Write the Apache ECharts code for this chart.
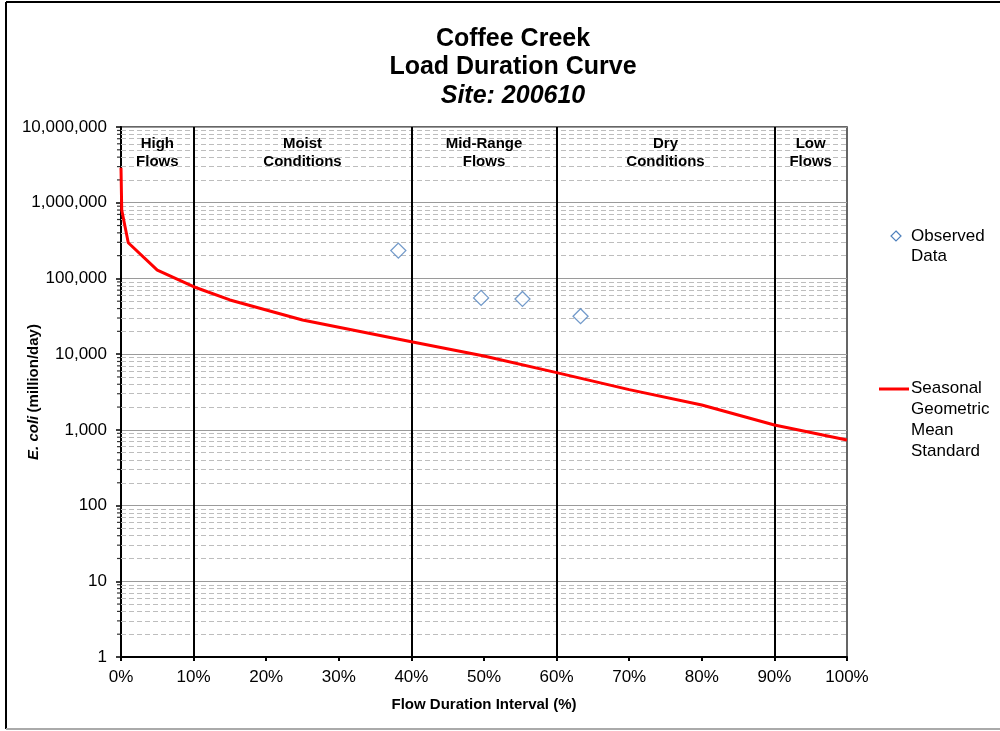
<!DOCTYPE html>
<html>
<head>
<meta charset="utf-8">
<script src="https://cdn.jsdelivr.net/npm/echarts@6/dist/echarts.min.js"></script>
<style>html,body{margin:0;padding:0;background:#fff}#c{width:1000px;height:731px}</style>
</head>
<body>
<div id="c"></div>
<script>
// ---- data ----
const zoneNames = ['High\nFlows', 'Moist\nConditions', 'Mid-Range\nFlows', 'Dry\nConditions', 'Low\nFlows'];
const zoneBounds = [0, 10, 40, 60, 90, 100];
const curveX = [0, 0.1, 1, 5, 10, 15, 25, 40, 50, 60, 70, 80, 90, 100];
const curveY = [2900000, 800000, 296000, 129000, 77700, 52000, 28300, 14600, 9460, 5700, 3400, 2130, 1160, 736];
const obsX = [38.2, 49.6, 55.3, 63.3];
const obsY = [233000, 55300, 53600, 31700];
const decades = [1, 10, 100, 1000, 10000, 100000, 1000000];
const minorMult = [2, 3, 4, 5, 6, 7, 8, 9];
const seriesNames = ['Observed\nData', 'Seasonal\nGeometric\nMean\nStandard'];

const FONT = "'Liberation Sans', Arial, sans-serif";
const minorVals = [];
decades.forEach(d => minorMult.forEach(m => minorVals.push(d * m)));

const chart = echarts.init(document.getElementById('c'));
const option = {
  animation: false,
  textStyle: { fontFamily: FONT },
  title: {
    left: 508, top: 20, textAlign: 'center',
    text: '{a|Coffee Creek}\n{a|Load Duration Curve}\n{b|Site: 200610}',
    textStyle: {
      rich: {
        a: { fontFamily: FONT, fontSize: 25, fontWeight: 'bold', color: '#000', lineHeight: 28 },
        b: { fontFamily: FONT, fontSize: 25, fontWeight: 'bold', fontStyle: 'italic', color: '#000', lineHeight: 30 }
      }
    }
  },
  grid: {
    left: 121, right: 153, top: 127, bottom: 74, show: true,
    outerBoundsMode: 'none', containLabel: false,
    borderColor: '#333', borderWidth: 1.5, backgroundColor: 'transparent'
  },
  xAxis: {
    type: 'value', min: 0, max: 100, interval: 10,
    name: 'Flow Duration Interval (%)', nameLocation: 'middle', nameGap: 40, nameMoveOverlap: false,
    nameTextStyle: { fontFamily: FONT, fontSize: 15, fontWeight: 'bold', color: '#000' },
    axisLine: { onZero: false, lineStyle: { color: '#000', width: 2 } },
    axisTick: { show: true, inside: false, length: 4, lineStyle: { color: '#000', width: 2 } },
    axisLabel: { formatter: '{value}%', fontFamily: FONT, fontSize: 17, color: '#000', margin: 12 },
    splitLine: { show: false }
  },
  yAxis: {
    type: 'log', logBase: 10, min: 1, max: 10000000,
    name: '{i|E. coli} {b|(million/day)}', nameLocation: 'middle', nameGap: 80, nameRotate: 90, nameMoveOverlap: false,
    nameTextStyle: {
      rich: {
        i: { fontFamily: FONT, fontSize: 15, fontWeight: 'bold', fontStyle: 'italic', color: '#000' },
        b: { fontFamily: FONT, fontSize: 15, fontWeight: 'bold', color: '#000' }
      }
    },
    axisLine: { show: true, lineStyle: { color: '#000', width: 2 } },
    axisTick: { show: true, inside: false, length: 5, lineStyle: { color: '#000', width: 1.5 } },
    axisLabel: {
      fontFamily: FONT, fontSize: 17, color: '#000', margin: 14,
      formatter: v => Math.round(v).toLocaleString('en-US')
    },
    splitLine: { show: true, lineStyle: { color: '#9a9a9a', width: 1 } },
    minorTick: { show: false }, minorSplitLine: { show: false }
  },
  series: [
    {
      name: 'minor', type: 'scatter', silent: true, z: 1, clip: false,
      symbol: 'rect', symbolSize: [4, 1.2], symbolOffset: [-2, 0],
      itemStyle: { color: '#000' },
      data: minorVals.map(v => [0, v]),
      markLine: {
        silent: true, symbol: 'none', animation: false, z: 1,
        label: { show: false },
        lineStyle: { color: '#bdbdbd', type: [5, 3], width: 1 },
        data: minorVals.map(v => ({ yAxis: v }))
      }
    },
    {
      name: 'zones', type: 'line', data: [], silent: true, z: 3,
      markArea: {
        silent: true,
        itemStyle: { color: 'rgba(0,0,0,0)' },
        label: {
          show: true, position: 'insideTop', distance: 8,
          fontFamily: FONT, fontSize: 15, fontWeight: 'bold', color: '#000', lineHeight: 18, align: 'center'
        },
        data: zoneNames.map((n, i) => [{ name: n, xAxis: zoneBounds[i], yAxis: 1 }, { xAxis: zoneBounds[i + 1], yAxis: 10000000 }])
      },
      markLine: {
        silent: true, symbol: 'none', animation: false,
        label: { show: false },
        lineStyle: { color: '#000', type: 'solid', width: 2 },
        data: zoneBounds.slice(1, -1).map(b => ({ xAxis: b }))
      }
    },
    {
      name: seriesNames[1], type: 'line', z: 5,
      data: curveX.map((x, i) => [x, curveY[i]]),
      showSymbol: false, symbol: 'none',
      lineStyle: { color: '#ff0000', width: 3 }
    },
    {
      name: seriesNames[0], type: 'scatter', z: 6,
      data: obsX.map((x, i) => [x, obsY[i]]),
      symbol: 'diamond', symbolSize: [15, 15],
      itemStyle: { color: '#ffffff', borderColor: '#4F81BD', borderWidth: 1.3 }
    }
  ],
  graphic: [
    { type: 'line', shape: { x1: 6, y1: 2, x2: 1000, y2: 2 }, style: { stroke: '#000', lineWidth: 2 } },
    { type: 'line', shape: { x1: 6, y1: 2, x2: 6, y2: 729 }, style: { stroke: '#000', lineWidth: 2 } },
    { type: 'line', shape: { x1: 6, y1: 729, x2: 1000, y2: 729 }, style: { stroke: '#aaa', lineWidth: 2 } },
    { type: 'polygon', shape: { points: [[896, 231], [901, 236], [896, 241], [891, 236]] }, style: { fill: '#fff', stroke: '#4F81BD', lineWidth: 1.2 } },
    { type: 'text', left: 911, top: 226, style: { text: seriesNames[0], font: '17px ' + FONT, fill: '#000', lineHeight: 20 } },
    { type: 'line', shape: { x1: 879, y1: 389, x2: 909, y2: 389 }, style: { stroke: '#ff0000', lineWidth: 3 } },
    { type: 'text', left: 911, top: 378, style: { text: seriesNames[1], font: '17px ' + FONT, fill: '#000', lineHeight: 21 } }
  ]
};
chart.setOption(option);
</script>
</body>
</html>
